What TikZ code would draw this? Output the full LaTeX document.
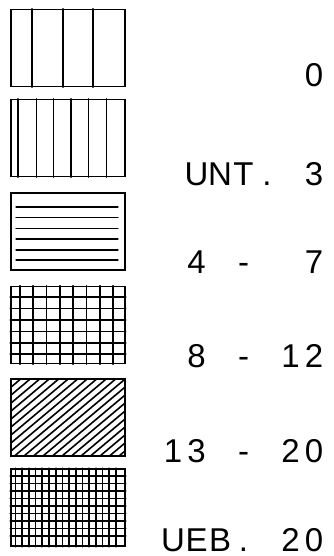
\documentclass[tikz,border=0pt]{standalone}
\usepackage{fontspec}
\newfontfamily\plotfont{Liberation Sans}
\newcommand\plt[1]{\makebox[23.5pt]{#1}}
\begin{document}
\begin{tikzpicture}[x=1pt,y=-1pt,line cap=round,
  legbox/.style={draw,line width=1.5pt,minimum width=114pt,minimum height=77pt,inner sep=0pt},
  hatch/.style={line width=1.3pt},
  leglabel/.style={anchor=base east,inner sep=0pt,font=\plotfont\fontsize{33}{33}\selectfont}]
\useasboundingbox (0,0) rectangle (334,556);
% Legend boxes
\node[legbox] (b1) at (68,48) {};
\node[legbox] (b2) at (68,138) {};
\node[legbox] (b3) at (68,231.5) {};
\node[legbox] (b4) at (68,325) {};
\node[legbox] (b5) at (68,417.5) {};
\node[legbox] (b6) at (68,507.5) {};
% Fillings
\foreach \x in {32,63,93} \draw[hatch] (\x,0 |- b1.north) -- (\x,0 |- b1.south);
\foreach \x in {18,36.5,53.5,71,88.5,106.5} \draw[hatch] (\x,0 |- b2.north) -- (\x,0 |- b2.south);
\foreach \y in {207,217.5,228.5,239,250,260} \draw[hatch] (16,\y) -- (118,\y);
\foreach \x in {20,33.3,46.6,60,73.3,86.6,100,113.3} \draw[line width=1.7pt] (\x,0 |- b4.north) -- (\x,0 |- b4.south);
\foreach \y in {297,308.5,320,331.5,343,354} \draw[line width=1.7pt] (b4.west |- 0,\y) -- (b4.east |- 0,\y);
\begin{scope}
\clip (b5.south west) rectangle (b5.north east);
\foreach \x in {-90,-80.5,...,125} \draw[line width=1.6pt] (\x,456) -- ++(100,-84);
\end{scope}
\foreach \x in {15.5,22.2,...,122} \draw[line width=1.7pt] (\x,0 |- b6.north) -- (\x,0 |- b6.south);
\foreach \y in {476,483.5,...,542} \draw[line width=1.7pt] (b6.west |- 0,\y) -- (b6.east |- 0,\y);
% Labels
\node[leglabel] (l1) at (326,87) {\plt{0}};
\node[leglabel] (l2) at (326,185) {\plt{U}\plt{N}\plt{T}\plt{.}\plt{}\plt{3}};
\node[leglabel] (l3) at (326,273) {\plt{4}\plt{}\plt{-}\plt{}\plt{}\plt{7}};
\node[leglabel] (l4) at (326,367) {\plt{8}\plt{}\plt{-}\plt{}\plt{1}\plt{2}};
\node[leglabel] (l5) at (326,462) {\plt{1}\plt{3}\plt{}\plt{-}\plt{}\plt{2}\plt{0}};
\node[leglabel] (l6) at (326,551) {\plt{U}\plt{E}\plt{B}\plt{.}\plt{}\plt{2}\plt{0}};
\end{tikzpicture}
\end{document}
